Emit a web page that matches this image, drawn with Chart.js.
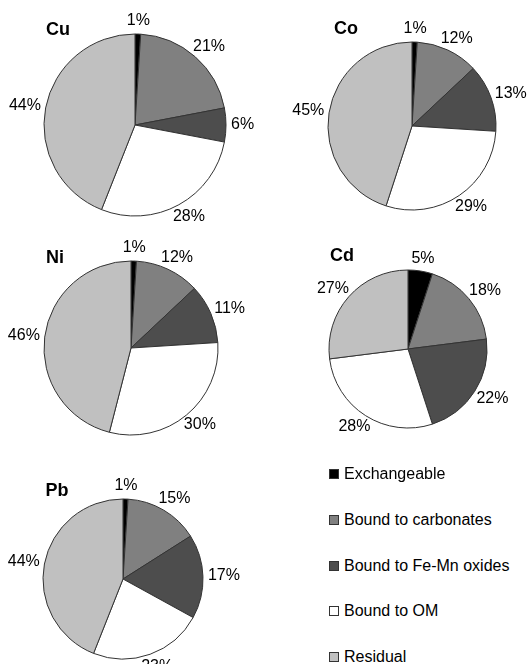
<!DOCTYPE html>
<html>
<head>
<meta charset="utf-8">
<script src="https://cdn.jsdelivr.net/npm/chart.js@4.4.0/dist/chart.umd.min.js"></script>
<style>
    body { margin: 0; background: #fff; }
    #wrap { position: relative; width: 528px; height: 664px; overflow: hidden; font-family: "Liberation Sans", Arial, sans-serif; color: #000; }
    #wrap canvas { position: absolute; }
    .ttl { position: absolute; font-weight: bold; font-size: 18px; transform: translate(-50%, -50%); }
    .leg { position: absolute; left: 329px; font-size: 16px; line-height: 18px; white-space: nowrap; transform: translateY(-50%); }
    .leg span { display: inline-block; width: 8px; height: 8px; border: 1px solid #333; margin-right: 5px; vertical-align: 0px; }
</style>
</head>
<body>
<div id="wrap"></div>
<script>
// fractions, clockwise from 12 o'clock
const fractions = ['Exchangeable', 'Bound to carbonates', 'Bound to Fe-Mn oxides', 'Bound to OM', 'Residual'];
const metals = ['Cu', 'Co', 'Ni', 'Cd', 'Pb'];
const cuValues = [1, 21, 6, 28, 44];
const coValues = [1, 12, 13, 29, 45];
const niValues = [1, 12, 11, 30, 46];
const cdValues = [5, 18, 22, 28, 27];
const pbValues = [1, 15, 17, 23, 44];
const allValues = [cuValues, coValues, niValues, cdValues, pbValues];

const colors = ['#000000', '#808080', '#4d4d4d', '#ffffff', '#c0c0c0'];

// where each pie sits on the page
const layout = [
    { cx: 135, cy: 125, r: 91, tx: 58, ty: 29 },
    { cx: 412, cy: 126, r: 84, tx: 346, ty: 28 },
    { cx: 131, cy: 348, r: 87, tx: 55, ty: 257 },
    { cx: 408, cy: 349, r: 79, tx: 342, ty: 255 },
    { cx: 123, cy: 579, r: 80, tx: 57, ty: 490 }
];

const wrap = document.getElementById('wrap');

// percent labels just outside each slice
const outsideLabels = {
    id: 'outsideLabels',
    afterDatasetsDraw(chart) {
        const ctx = chart.ctx;
        const meta = chart.getDatasetMeta(0);
        const values = chart.data.datasets[0].data;
        ctx.save();
        ctx.font = '16px "Liberation Sans", Arial, sans-serif';
        ctx.fillStyle = '#000';
        ctx.textAlign = 'center';
        ctx.textBaseline = 'middle';
        meta.data.forEach((arc, i) => {
            const p = arc.getProps(['x', 'y', 'startAngle', 'endAngle', 'outerRadius'], true);
            const mid = (p.startAngle + p.endAngle) / 2;
            const cos = Math.cos(mid), sin = Math.sin(mid);
            const txt = values[i] + '%';
            const halfW = ctx.measureText(txt).width / 2;
            const d = p.outerRadius + 5;
            const x = p.x + cos * d + cos * halfW;
            const y = p.y + sin * d + sin * 8;
            ctx.fillText(txt, x, y);
        });
        ctx.restore();
    }
};

metals.forEach((metal, k) => {
    const L = layout[k];
    const canvas = document.createElement('canvas');
    canvas.width = 264;
    canvas.height = 230;
    canvas.style.left = (L.cx - 132) + 'px';
    canvas.style.top = (L.cy - 115) + 'px';
    wrap.appendChild(canvas);

    new Chart(canvas.getContext('2d'), {
        type: 'pie',
        data: {
            labels: fractions,
            datasets: [{
                data: allValues[k],
                backgroundColor: colors,
                borderColor: '#333333',
                borderWidth: 1
            }]
        },
        options: {
            responsive: false,
            animation: false,
            events: [],
            radius: L.r,
            layout: { padding: 0 },
            plugins: {
                legend: { display: false },
                tooltip: { enabled: false }
            }
        },
        plugins: [outsideLabels]
    });

    const t = document.createElement('div');
    t.className = 'ttl';
    t.style.left = L.tx + 'px';
    t.style.top = L.ty + 'px';
    t.textContent = metal;
    wrap.appendChild(t);
});

// legend
fractions.forEach((name, i) => {
    const row = document.createElement('div');
    row.className = 'leg';
    row.style.top = (474 + i * 45.75) + 'px';
    const box = document.createElement('span');
    box.style.background = colors[i];
    row.appendChild(box);
    row.appendChild(document.createTextNode(name));
    wrap.appendChild(row);
});
</script>
</body>
</html>
